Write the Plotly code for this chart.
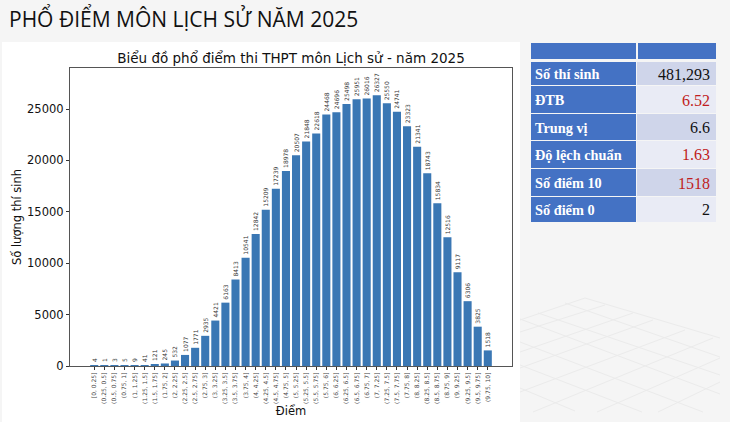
#! /usr/bin/env python3
# Pho diem mon Lich su 2025: bar chart, stats table and floor decoration

import plotly.graph_objects as go

WIDTH = 730
HEIGHT = 422

bins = [
    '[0, 0.25]', '(0.25, 0.5]', '(0.5, 0.75]', '(0.75, 1]', '(1, 1.25]',
    '(1.25, 1.5]', '(1.5, 1.75]', '(1.75, 2]', '(2, 2.25]', '(2.25, 2.5]',
    '(2.5, 2.75]', '(2.75, 3]', '(3, 3.25]', '(3.25, 3.5]', '(3.5, 3.75]',
    '(3.75, 4]', '(4, 4.25]', '(4.25, 4.5]', '(4.5, 4.75]', '(4.75, 5]',
    '(5, 5.25]', '(5.25, 5.5]', '(5.5, 5.75]', '(5.75, 6]', '(6, 6.25]',
    '(6.25, 6.5]', '(6.5, 6.75]', '(6.75, 7]', '(7, 7.25]', '(7.25, 7.5]',
    '(7.5, 7.75]', '(7.75, 8]', '(8, 8.25]', '(8.25, 8.5]', '(8.5, 8.75]',
    '(8.75, 9]', '(9, 9.25]', '(9.25, 9.5]', '(9.5, 9.75]', '(9.75, 10]',
]
counts = [
    4, 1, 3, 5, 9, 41, 121, 245, 532, 1077,
    1771, 2935, 4421, 6163, 8413, 10541, 12842, 15209, 17239, 18978,
    20507, 21848, 22618, 24468, 24696, 25498, 25951, 26016, 26327, 25550,
    24741, 23323, 21341, 18743, 15834, 12516, 9117, 6306, 3825, 1518,
]
y_ticks = [0, 5000, 10000, 15000, 20000, 25000]

table_labels = ['Số thí sinh', 'ĐTB', 'Trung vị', 'Độ lệch chuẩn', 'Số điểm 10', 'Số điểm 0']
table_values = ['481,293', '6.52', '6.6', '1.63', '1518', '2']
table_colors = ['#111111', '#c01c20', '#111111', '#c01c20', '#c01c20', '#111111']
table_fills = ['#cfd5ea', '#e9ebf5', '#cfd5ea', '#e9ebf5', '#cfd5ea', '#e9ebf5']
row_edges = [62, 86, 114, 141, 169, 197, 223]

floor_lines = [
    (585, 298, 720, 338), (565, 303, 720, 357), (538, 313, 720, 375), (520, 319, 720, 394),
    (520, 342, 703, 412), (520, 365, 642, 412), (520, 388, 575, 411),
    (520, 320, 585, 298), (520, 332, 605, 305), (520, 352, 633, 313), (520, 368, 653, 320),
    (520, 392, 685, 330), (533, 412, 713, 338), (597, 412, 720, 358), (658, 412, 720, 382),
]


def px_x(x):
    return x / WIDTH


def px_y(y):
    return 1 - y / HEIGHT


def box(x0, y0, x1, y1, fill):
    return dict(type='rect', xref='paper', yref='paper', layer='below',
                x0=px_x(x0), x1=px_x(x1), y0=px_y(y1), y1=px_y(y0),
                fillcolor=fill, line=dict(width=0))


shapes = [box(2, 42, 520, 422, '#ffffff')]
for x0, y0, x1, y1 in floor_lines:
    shapes.append(dict(type='line', xref='paper', yref='paper', layer='below',
                       x0=px_x(x0), x1=px_x(x1), y0=px_y(y0), y1=px_y(y1),
                       line=dict(color='#ebebeb', width=1)))

# table cells
shapes.append(box(531, 43, 636, 59, '#4472c4'))
shapes.append(box(638, 43, 716, 59, '#4472c4'))
annotations = [dict(
    text='PHỔ ĐIỂM MÔN LỊCH SỬ NĂM 2025', xref='paper', yref='paper',
    x=px_x(7), y=px_y(19), xanchor='left', yanchor='middle', showarrow=False,
    font=dict(family='Open Sans', size=21, color='#111111'),
)]
for i, label in enumerate(table_labels):
    top = row_edges[i]
    bottom = row_edges[i + 1] - 1
    middle = (top + bottom) / 2
    shapes.append(box(531, top, 636, bottom, '#4472c4'))
    shapes.append(box(637, top, 716, bottom, table_fills[i]))
    annotations.append(dict(
        text=f'<b>{label}</b>', xref='paper', yref='paper',
        x=px_x(533), y=px_y(middle + 0.5), xanchor='left', yanchor='middle', showarrow=False,
        font=dict(family='Liberation Serif', size=14.3, color='#ffffff'),
    ))
    annotations.append(dict(
        text=table_values[i], xref='paper', yref='paper',
        x=px_x(712), y=px_y(middle + 0.5), xanchor='right', yanchor='middle', showarrow=False,
        font=dict(family='Liberation Serif', size=16, color=table_colors[i]),
    ))

figure = go.Figure(go.Bar(
    x=list(range(len(bins))),
    y=counts,
    width=0.8,
    marker=dict(color='#3a77b4', line=dict(width=0)),
    text=[str(c) for c in counts],
    textposition='outside',
    textangle=-90,
    constraintext='none',
    textfont=dict(family='DejaVu Sans', size=6, color='#333333'),
    cliponaxis=False,
))

figure.update_layout(
    width=WIDTH,
    height=HEIGHT,
    margin=dict(l=0, r=0, t=0, b=0),
    paper_bgcolor='#f5f5f5',
    plot_bgcolor='#ffffff',
    showlegend=False,
    shapes=shapes,
    annotations=annotations,
    font=dict(family='DejaVu Sans', color='#222222'),
    title=dict(
        text='Biểu đồ phổ điểm thi THPT môn Lịch sử - năm 2025',
        x=px_x(291), y=px_y(58), xanchor='center', yanchor='middle',
        font=dict(family='DejaVu Sans', size=13.5, color='#111111'),
    ),
    xaxis=dict(
        domain=[px_x(70), px_x(512)],
        range=[-2.4, 41.4],
        tickmode='array',
        tickvals=list(range(len(bins))),
        ticktext=bins,
        tickangle=-90,
        tickfont=dict(family='DejaVu Sans', size=6, color='#444444'),
        ticks='outside',
        ticklen=3,
        tickcolor='#333333',
        showgrid=False,
        zeroline=False,
        showline=True,
        mirror=True,
        linecolor='#555555',
        linewidth=1.2,
        title=dict(text='Điểm', font=dict(size=11.5, color='#111111'), standoff=3),
        automargin=False,
    ),
    yaxis=dict(
        domain=[px_y(366), px_y(68)],
        range=[0, 28990],
        tickmode='array',
        tickvals=y_ticks,
        ticktext=[str(t) for t in y_ticks],
        tickfont=dict(family='DejaVu Sans', size=11.5, color='#111111'),
        ticks='outside',
        ticklen=3,
        tickcolor='#333333',
        showgrid=False,
        zeroline=False,
        showline=True,
        mirror=True,
        linecolor='#555555',
        linewidth=1.2,
        title=dict(text='Số lượng thí sinh', font=dict(size=11.5, color='#111111'), standoff=2),
        automargin=False,
    ),
)

# the page body has a default margin that would shift the figure
figure.write_html('out.html', config={'displayModeBar': False},
                  post_script="document.body.style.margin = '0';")
